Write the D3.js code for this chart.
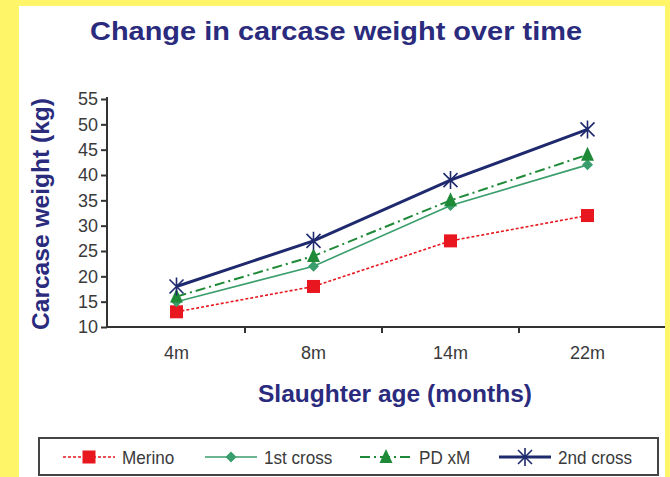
<!DOCTYPE html>
<meta charset="utf-8">
<head>
<style>
  body { margin: 0; background: #fff568; font-family: "Liberation Sans", Arial, sans-serif; }
  svg { display: block; }
  .tick text { font-family: "Liberation Sans", Arial, sans-serif; font-size: 18px; fill: #3a3a3a; }
  .axis path, .axis line { stroke: #333; stroke-width: 2; }
  .ttl { font-weight: bold; fill: #2b2b7e; }
  .leg text { font-size: 19px; fill: #3a3a3a; }
</style>
</head>
<body>
<script src="https://cdn.jsdelivr.net/npm/d3@7"></script>
<script>
var ages = ["4m", "8m", "14m", "22m"];
var yTicks = [10, 15, 20, 25, 30, 35, 40, 45, 50, 55];
var merino = [13, 18, 27, 32];
var firstCross = [15, 22, 34, 42];
var pdxm = [16, 24, 35, 44];
var secondCross = [18, 27, 39, 49];

var series = [
  { name: "Merino", values: merino, color: "#e8161e", width: 1.6, dash: "3,2", marker: "square" },
  { name: "1st cross", values: firstCross, color: "#3a9e6c", width: 1.6, dash: null, marker: "diamond" },
  { name: "PD xM", values: pdxm, color: "#1e8a38", width: 2, dash: "10,4,2,4", marker: "triangle" },
  { name: "2nd cross", values: secondCross, color: "#1f2a6e", width: 3, dash: null, marker: "star" }
];

var W = 670, H = 477;
var svg = d3.select("body").append("svg").attr("width", W).attr("height", H);

// white panel
svg.append("rect").attr("x", 19).attr("y", 6).attr("width", 646).attr("height", H - 6).attr("fill", "#fff");

var x = d3.scaleBand().domain(ages).range([108, 656]);
var y = d3.scaleLinear().domain([10, 55]).range([327, 99]);

// title
svg.append("text").attr("class", "ttl")
  .attr("x", 336).attr("y", 40).attr("text-anchor", "middle")
  .style("font-size", "26px")
  .attr("textLength", 492).attr("lengthAdjust", "spacingAndGlyphs")
  .text("Change in carcase weight over time");

// y axis
var gy = svg.append("g").attr("class", "axis").attr("transform", "translate(107,0)")
  .call(d3.axisLeft(y).tickValues(yTicks).tickSize(6).tickPadding(3).tickSizeOuter(0));
gy.select(".domain").attr("d", "M0," + (y(55) - 2) + "V" + y(10));
gy.selectAll(".tick text").attr("textLength", 20).attr("lengthAdjust", "spacingAndGlyphs");

// x axis
var gx = svg.append("g").attr("class", "axis").attr("transform", "translate(0,327)");
gx.append("line").attr("x1", 107).attr("x2", 665).attr("stroke", "#333").attr("stroke-width", 2);
gx.selectAll(".tk").data(ages.slice(1)).enter().append("line")
  .attr("x1", function (d) { return x(d); }).attr("x2", function (d) { return x(d); })
  .attr("y1", 0).attr("y2", 6).attr("stroke", "#333").attr("stroke-width", 2);
gx.selectAll(".lb").data(ages).enter().append("text")
  .attr("x", function (d) { return x(d) + x.bandwidth() / 2; })
  .attr("y", 32).attr("text-anchor", "middle")
  .style("font-size", "18px").attr("fill", "#3a3a3a")
  .text(function (d) { return d; });

// axis titles
svg.append("text").attr("class", "ttl")
  .attr("transform", "translate(49,214) rotate(-90)")
  .attr("text-anchor", "middle").style("font-size", "23px")
  .attr("textLength", 232).attr("lengthAdjust", "spacingAndGlyphs")
  .text("Carcase weight (kg)");
svg.append("text").attr("class", "ttl")
  .attr("x", 395).attr("y", 402).attr("text-anchor", "middle").style("font-size", "23px")
  .attr("textLength", 274).attr("lengthAdjust", "spacingAndGlyphs")
  .text("Slaughter age (months)");

function drawMarker(g, type, color) {
  if (type === "square") {
    g.append("rect").attr("x", -6.5).attr("y", -6.5).attr("width", 13).attr("height", 13).attr("fill", color);
  } else if (type === "diamond") {
    g.append("path").attr("d", "M0,-5.5L5.5,0L0,5.5L-5.5,0Z").attr("fill", color);
  } else if (type === "triangle") {
    g.append("path").attr("d", "M0,-8L6.5,6L-6.5,6Z").attr("fill", color);
  } else {
    g.append("path").attr("d", "M-7,-7L7,7M-7,7L7,-7M0,-9V9")
      .attr("stroke", color).attr("stroke-width", 1.6).attr("fill", "none");
  }
}

var line = d3.line()
  .x(function (d, i) { return x(ages[i]) + x.bandwidth() / 2; })
  .y(function (d) { return y(d); });

series.forEach(function (s) {
  var g = svg.append("g");
  g.append("path").attr("d", line(s.values)).attr("fill", "none")
    .attr("stroke", s.color).attr("stroke-width", s.width)
    .attr("stroke-dasharray", s.dash);
  s.values.forEach(function (v, i) {
    var m = g.append("g").attr("transform", "translate(" + (x(ages[i]) + x.bandwidth() / 2) + "," + y(v) + ")");
    drawMarker(m, s.marker, s.color);
  });
});

// legend
var leg = svg.append("g").attr("class", "leg");
leg.append("rect").attr("x", 39).attr("y", 438).attr("width", 619).attr("height", 37)
  .attr("fill", "#fff").attr("stroke", "#444").attr("stroke-width", 2);
var legX = [63, 205, 360, 499];
series.forEach(function (s, i) {
  var g = leg.append("g").attr("transform", "translate(" + legX[i] + ",457)");
  g.append("line").attr("x1", 0).attr("x2", 52).attr("stroke", s.color)
    .attr("stroke-width", s.width).attr("stroke-dasharray", s.dash);
  var m = g.append("g").attr("transform", "translate(26,0)");
  drawMarker(m, s.marker, s.color);
  var t = g.append("text").attr("x", 59).attr("y", 7).text(s.name);
  t.attr("textLength", t.node().getComputedTextLength() * 0.9).attr("lengthAdjust", "spacingAndGlyphs");
});
</script>
</body>
